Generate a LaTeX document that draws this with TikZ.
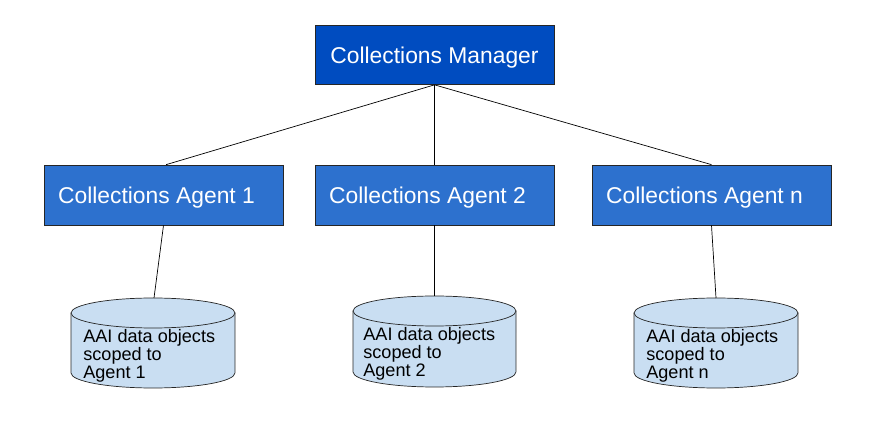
\documentclass[tikz,border=0pt]{standalone}
\usepackage{fontspec}
\setmainfont{Liberation Sans}
\usetikzlibrary{positioning}
\definecolor{managerblue}{RGB}{0,76,192}
\definecolor{agentblue}{RGB}{45,113,206}
\definecolor{storeblue}{RGB}{201,222,242}

\begin{document}
\begin{tikzpicture}[
        x=0.02cm, y=-0.02cm,
        box/.style={draw=black!85, thin, text=white, minimum width=4.78cm, minimum height=1.18cm, text height=9.3pt, text depth=0pt, font=\fontsize{13}{15}\selectfont},
        manager/.style={box, fill=managerblue},
        agent/.style={box, fill=agentblue, minimum height=1.2cm, execute at end node=\hspace{0.28cm}},
        store/.style={draw=black!85, thin, fill=storeblue},
        storetext/.style={anchor=north west, inner sep=0pt, align=left, font=\fontsize{10.3}{10.2}\selectfont},
        link/.style={draw=black, thin}
      ]
      \useasboundingbox (0,0) rectangle (874,421);
      \node[manager] (mgr) at (434.5,55) {Collections Manager};
      \node[agent] (agent1) at (163.5,195) {Collections Agent 1};
      \node[agent] (agent2) at (434.5,195) {Collections Agent 2};
      \node[agent] (agentn) at (711.5,195) {Collections Agent n};
      % data stores
      \filldraw[store] (71,313) -- (71,373) arc[start angle=180, end angle=360, x radius=1.64cm, y radius=0.3cm] -- (235,313) -- cycle;
      \filldraw[store] (153,313) ellipse[x radius=1.64cm, y radius=0.3cm];
      \filldraw[store] (353,311) -- (353,372) arc[start angle=180, end angle=360, x radius=1.63cm, y radius=0.3cm] -- (516,311) -- cycle;
      \filldraw[store] (434.5,311) ellipse[x radius=1.63cm, y radius=0.3cm];
      \filldraw[store] (634,313) -- (634,373) arc[start angle=180, end angle=360, x radius=1.64cm, y radius=0.3cm] -- (798,313) -- cycle;
      \filldraw[store] (716,313) ellipse[x radius=1.64cm, y radius=0.3cm];
      \coordinate (top1) at (154,298);
      \coordinate (top2) at (434.5,296);
      \coordinate (topn) at (716,298);
      \node[storetext] (store1) at (83,329) {AAI data objects\\scoped to\\Agent 1};
      \node[storetext] (store2) at (363,327) {AAI data objects\\scoped to\\Agent 2};
      \node[storetext] (storen) at (646,329) {AAI data objects\\scoped to\\Agent n};
      \draw[link] (mgr.south) -- ([xshift=1.5]agent1.north);
      \draw[link] (mgr.south) -- (agent2.north);
      \draw[link] (mgr.south) -- (agentn.north);
      \draw[link] (agent1.south) -- (top1);
      \draw[link] (agent2.south) -- (top2);
      \draw[link] (agentn.south) -- (topn);
    \end{tikzpicture}
\end{document}
